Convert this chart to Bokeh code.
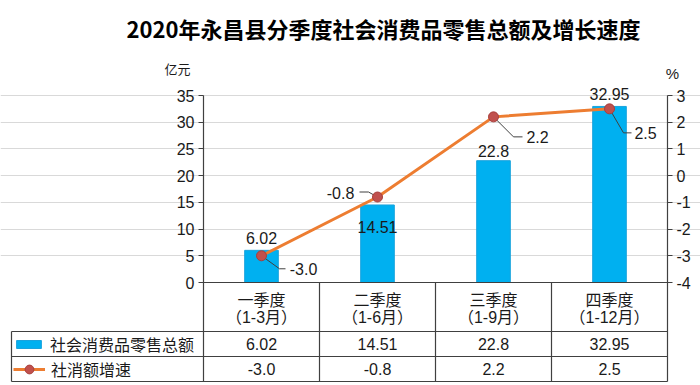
from bokeh.plotting import figure
from bokeh.models import (Range1d, LinearAxis, FixedTicker, Label, Legend, LegendItem,
                          PrintfTickFormatter)
from bokeh.core.properties import value
from bokeh.embed import file_html
from bokeh.resources import INLINE

# ---------------- data ----------------
title_text = "2020年永昌县分季度社会消费品零售总额及增长速度"
quarters = ["一季度", "二季度", "三季度", "四季度"]
periods = ["（1-3月）", "（1-6月）", "（1-9月）", "（1-12月）"]
sales = [6.02, 14.51, 22.8, 32.95]
growth = [-3.0, -0.8, 2.2, 2.5]
sales_name = "社会消费品零售总额"
growth_name = "社消额增速"
left_ticks = [0, 5, 10, 15, 20, 25, 30, 35]
right_ticks = [-4, -3, -2, -1, 0, 1, 2, 3]
left_unit = "亿元"
right_unit = "%"

# ---------------- layout (canvas px) ----------------
W, H = 700, 385
AX_L, AX_R = 203, 667        # plot area left / right
Y_TOP, Y_ZERO = 95, 282      # top tick / zero line
ROW_A, ROW_B, T_BOT = 331, 356, 381   # table row lines
T_LEFT = 11                  # left edge of legend column

CJK = value("Noto Sans CJK SC")
LAT = value("Liberation Sans")
MIX = value("Liberation Sans, Noto Sans CJK SC")
DARK = "#404040"
TXT = "#1a1a1a"

n = len(quarters)
xc = [i + 0.5 for i in range(n)]
xppu = (AX_R - AX_L) / n
lmin, lmax = left_ticks[0], left_ticks[-1]
rmin, rmax = right_ticks[0], right_ticks[-1]
lppu = (Y_ZERO - Y_TOP) / (lmax - lmin)
rppu = (Y_ZERO - Y_TOP) / (rmax - rmin)

def X(px):
    return (px - AX_L) / xppu

def YL(py):
    return lmin + (Y_ZERO - py) / lppu

def YR(py):
    return rmin + (Y_ZERO - py) / rppu

p = figure(width=W, height=H, x_range=Range1d(X(0), X(W)), y_range=Range1d(YL(H), YL(0)),
           output_backend="svg", toolbar_location=None, x_axis_location=None,
           min_border=0, outline_line_color=None,
           background_fill_color="white", border_fill_color="white")
p.extra_y_ranges = {"pct": Range1d(YR(H), YR(0))}

def style_axis(ax, ticks):
    ax.ticker = FixedTicker(ticks=ticks)
    ax.formatter = PrintfTickFormatter(format="%d")
    ax.axis_line_color = DARK
    ax.axis_line_width = 1.2
    ax.major_tick_line_color = DARK
    ax.major_tick_out = 5
    ax.major_tick_in = 0
    ax.minor_tick_out = 0
    ax.minor_tick_in = 0
    ax.major_label_text_font = "Liberation Sans"
    ax.major_label_text_font_size = "16px"
    ax.major_label_text_color = TXT
    ax.major_label_standoff = 4

lax = p.yaxis[0]
style_axis(lax, left_ticks)
lax.fixed_location = 0
lax.bounds = (YL(T_BOT), lmax)

rax = LinearAxis(y_range_name="pct", fixed_location=n, bounds=(YR(T_BOT), rmax))
style_axis(rax, right_ticks)
p.add_layout(rax, "right")

p.xgrid.visible = False
p.ygrid.ticker = FixedTicker(ticks=left_ticks[1:])
p.ygrid.bounds = (0, n)
p.ygrid.grid_line_color = "#d9d9d9"

# bars, line
bars = p.vbar(x=xc, top=sales, width=0.29, fill_color="#00B0F0", line_color="#1aa3dd")
gline = p.line(xc, growth, y_range_name="pct", line_color="#ED7D31", line_width=3)

# leader lines for growth labels (pixel offsets from each point)
leader_px = [[(0, 0), (18, 13), (24, 13)],
             [(0, 0), (-9, -5), (-18, -5)],
             [(0, 0), (20, 20), (29, 20)],
             [(0, 0), (14, 24), (22, 24)]]
lxs = [[x + dx / xppu for dx, dy in pts] for x, pts in zip(xc, leader_px)]
lys = [[g - dy / rppu for dx, dy in pts] for g, pts in zip(growth, leader_px)]
p.multi_line(lxs, lys, y_range_name="pct", line_color=DARK, line_width=1)

gpts = p.scatter(xc, growth, y_range_name="pct", size=10, fill_color="#C0504D",
                 line_color="#A83F3C")

# data labels
p.text(x=xc, y=sales, text=[f"{v:g}" for v in sales], y_offset=[-12, 22, -10, -12],
       text_align="center", text_baseline="middle", text_font=LAT,
       text_font_size="16px", text_color=TXT)
p.text(x=xc, y=growth, text=[f"{g:.1f}" for g in growth], y_range_name="pct",
       x_offset=[42, -37, 44, 36], y_offset=[13, -4, 20, 24],
       text_align="center", text_baseline="middle", text_font=LAT,
       text_font_size="16px", text_color=TXT)

# ---------------- data table ----------------
hx0 = [0, X(T_LEFT), X(T_LEFT), X(T_LEFT)]
hy = [YL(Y_ZERO), YL(ROW_A), YL(ROW_B), YL(T_BOT)]
p.segment(x0=hx0, y0=hy, x1=[n] * 4, y1=hy, line_color=DARK, line_width=1.2)
vx = list(range(1, n)) + [X(T_LEFT)]
vy0 = [YL(Y_ZERO)] * (n - 1) + [YL(ROW_A)]
p.segment(x0=vx, y0=vy0, x1=vx, y1=[YL(T_BOT)] * n, line_color=DARK, line_width=1.2)

def cell_text(texts, center_py, font, size):
    p.text(x=xc, y=[YL(center_py)] * n, text=texts, text_align="center",
           text_baseline="middle", text_font=font, text_font_size=size, text_color=TXT)

cell_text(quarters, 298, CJK, "16px")
cell_text(periods, 317, MIX, "16px")
cell_text([f"{v:g}" for v in sales], 343, LAT, "16px")
cell_text([f"{g:.1f}" for g in growth], 368, LAT, "16px")

def make_legend(label, renderers, x_left, row_top, row_bot, gw, gh):
    return Legend(items=[LegendItem(label=label, renderers=renderers)],
                  location=(x_left, H - row_bot), padding=0, margin=0, spacing=0,
                  border_line_color=None, background_fill_alpha=0,
                  glyph_width=gw, glyph_height=gh, label_height=row_bot - row_top,
                  label_standoff=6, label_text_font="Noto Sans CJK SC",
                  label_text_font_size="16px", label_text_color=TXT,
                  label_text_baseline="middle")

p.add_layout(make_legend(sales_name, [bars], 13, ROW_A, ROW_B, 31, 10))
p.add_layout(make_legend(growth_name, [gline, gpts], 13, ROW_B, T_BOT, 32, 22))

# title and unit labels
def screen_label(text, cx, cy, font, size, bold=False, color=TXT):
    p.add_layout(Label(x=cx, y=H - cy, x_units="screen", y_units="screen", text=text,
                       text_align="center", text_baseline="middle", text_font=font,
                       text_font_size=size, text_font_style="bold" if bold else "normal",
                       text_color=color))

screen_label(title_text, 383, 27, "Noto Sans CJK SC", "22px", bold=True, color="#000000")
screen_label(left_unit, 177, 68, "Noto Sans CJK SC", "13px")
screen_label(right_unit, 672, 73, "Liberation Sans", "15px")

open("out.html", "w").write(file_html(p, INLINE))
